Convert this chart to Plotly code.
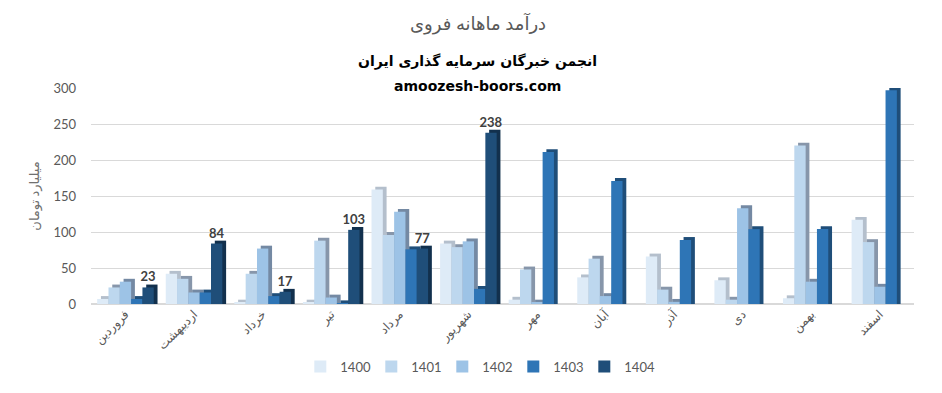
import plotly.graph_objects as go

months = ["فروردین", "اردیبهشت", "خرداد", "تیر", "مرداد", "شهریور",
          "مهر", "آبان", "آذر", "دی", "بهمن", "اسفند"]
years = ["1400", "1401", "1402", "1403", "1404"]

v1400 = [7, 42, 2, 2, 159, 84, 6, 37, 66, 33, 8, 117]
v1401 = [23, 35, 42, 88, 96, 79, 48, 63, 20, 6, 220, 86]
v1402 = [31, 16, 77, 9, 128, 87, 2, 11, 3, 133, 31, 24]
v1403 = [7, 16, 11, 1, 76, 21, 211, 171, 89, 104, 104, 297]
v1404 = [23, 84, 17, 103, 77, 238, None, None, None, None, None, None]

series = [v1400, v1401, v1402, v1403, v1404]
front_colors = ["#DEEBF7", "#BDD7EE", "#9DC3E6", "#2E75B6", "#1F4E79"]
side_colors = ["#B4BFCC", "#8796AA", "#7489A3", "#1F4E79", "#12304D"]

FONT = "Lato, 'DejaVu Sans', sans-serif"
bw = 0.165
start = -0.41
dx = 0.055
dy = 4

fig = go.Figure()

# side/top faces (pseudo-3D)
for i, vals in enumerate(series):
    fig.add_trace(go.Bar(
        x=months,
        y=[None if v is None else v + dy for v in vals],
        offset=start + i * bw + dx,
        width=bw,
        marker=dict(color=side_colors[i], line=dict(width=0)),
        showlegend=False,
        hoverinfo="skip",
    ))

# front faces
for i, vals in enumerate(series):
    is_last = i == len(series) - 1
    fig.add_trace(go.Bar(
        x=months,
        y=vals,
        name=years[i],
        offset=start + i * bw,
        width=bw,
        marker=dict(color=front_colors[i], line=dict(width=0)),
        text=[None if v is None else str(v) for v in vals] if is_last else None,
        textposition="outside" if is_last else None,
        constraintext="none",
        textfont=dict(family=FONT, size=13, color="#404040", weight="bold"),
        cliponaxis=False,
    ))

fig.update_layout(
    width=942, height=393,
    barmode="overlay",
    paper_bgcolor="white", plot_bgcolor="white",
    margin=dict(l=91, r=28, t=88, b=87),
    font=dict(family=FONT, color="#595959", size=13),
    xaxis=dict(
        tickangle=-45, showgrid=False, zeroline=False, showline=False,
        ticks="", tickfont=dict(size=12, color="#595959"),
    ),
    yaxis=dict(
        range=[0, 300], dtick=50, showgrid=True, gridcolor="#D9D9D9",
        gridwidth=1, zeroline=True, zerolinecolor="#D9D9D9", showline=False,
        ticks="", ticklabelstandoff=14, tickfont=dict(size=13, color="#595959"),
        title=dict(text="میلیارد تومان", font=dict(size=13, color="#707070"), standoff=10),
    ),
    legend=dict(
        orientation="h", x=0.47, xanchor="center", y=-0.29, yanchor="middle",
        font=dict(size=13, color="#595959"), traceorder="normal",
        entrywidth=26, entrywidthmode="pixels", itemwidth=30,
    ),
    annotations=[
        dict(text="درآمد ماهانه فروی", xref="paper", yref="paper", x=0.47, y=1.30,
             xanchor="center", yanchor="middle", showarrow=False,
             font=dict(size=18, color="#595959")),
        dict(text="<b>انجمن خبرگان سرمایه گذاری ایران</b>", xref="paper", yref="paper",
             x=0.47, y=1.125, xanchor="center", yanchor="middle", showarrow=False,
             font=dict(size=14, color="#000000", family="'DejaVu Sans', sans-serif")),
        dict(text="<b>amoozesh-boors.com</b>", xref="paper", yref="paper",
             x=0.47, y=1.01, xanchor="center", yanchor="middle", showarrow=False,
             font=dict(size=14, color="#000000", family="'DejaVu Sans', sans-serif")),
    ],
)

fig.write_html("out.html")
